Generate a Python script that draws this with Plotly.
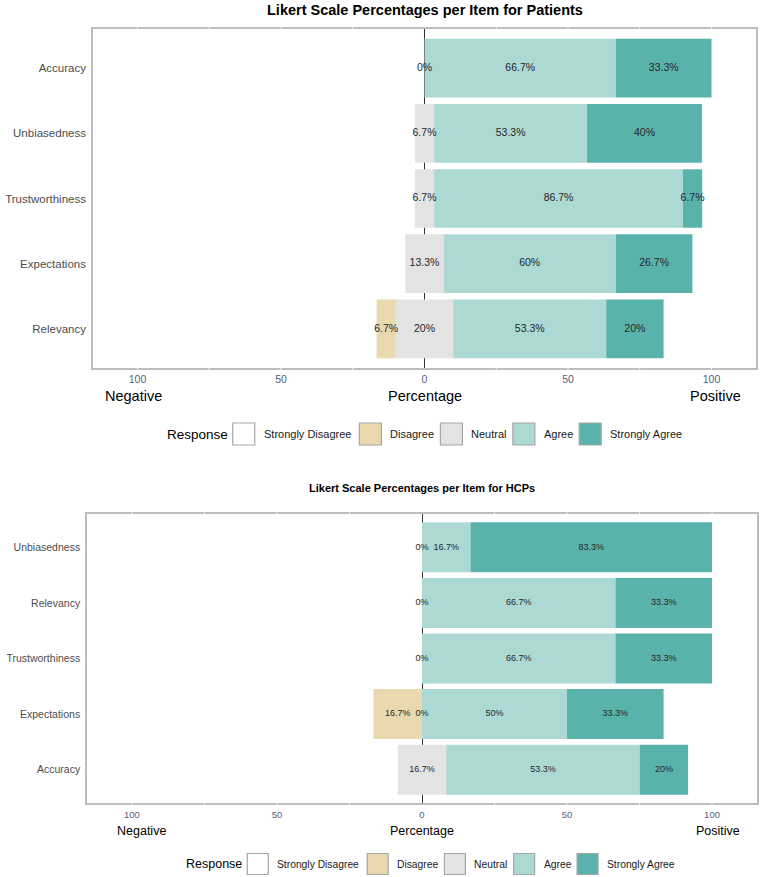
import plotly.graph_objects as go

# ---------------- data ----------------
levels = ["Strongly Disagree", "Disagree", "Neutral", "Agree", "Strongly Agree"]
level_colors = ["#FFFFFF", "#EAD8AE", "#E3E3E3", "#ADD9D5", "#5AB3AB"]

pat_items = ["Accuracy", "Unbiasedness", "Trustworthiness", "Expectations", "Relevancy"]
pat_sd = [0, 0, 0, 0, 0]
pat_d = [0, 0, 0, 0, 6.7]
pat_n = [0, 6.7, 6.7, 13.3, 20]
pat_a = [66.7, 53.3, 86.7, 60, 53.3]
pat_sa = [33.3, 40, 6.7, 26.7, 20]

hcp_items = ["Unbiasedness", "Relevancy", "Trustworthiness", "Expectations", "Accuracy"]
hcp_sd = [0, 0, 0, 0, 0]
hcp_d = [0, 0, 0, 16.7, 0]
hcp_n = [0, 0, 0, 0, 16.7]
hcp_a = [16.7, 66.7, 66.7, 50, 66.7]
hcp_sa = [83.3, 33.3, 33.3, 33.3, 16.7]
# printed labels (as shown in the figure)
hcp_a_label = [16.7, 66.7, 66.7, 50, 53.3]
hcp_sa_label = [83.3, 33.3, 33.3, 33.3, 20]

tick_vals = [-100, -50, 0, 50, 100]
tick_text = ["100", "50", "0", "50", "100"]

# ---------------- layout helpers ----------------
W, H = 760, 877
def px(x):
    return x / W
def py(y):
    return 1 - y / H

XR = [-115.5, 115.5]
FONT = "Liberation Sans, Arial, sans-serif"

fig = go.Figure()

def fmt(v):
    return f"{v:g}%"

def add_panel(ax, items, sd, d, n, a, sa, a_lab, sa_lab, lab_size):
    xa = "x" if ax == 1 else f"x{ax}"
    ya = "y" if ax == 1 else f"y{ax}"
    sd_b, d_b, n_b, a_b, sa_b = [], [], [], [], []
    for i in range(len(items)):
        nb = -n[i] / 2
        n_b.append(nb)
        d_b.append(nb - d[i])
        sd_b.append(nb - d[i] - sd[i])
        a_b.append(n[i] / 2)
        sa_b.append(n[i] / 2 + a[i])
    vals = [sd, d, n, a, sa]
    bases = [sd_b, d_b, n_b, a_b, sa_b]
    for lev, col, v, b in zip(levels, level_colors, vals, bases):
        fig.add_trace(go.Bar(
            y=items, x=v, base=b, orientation="h", width=0.9,
            marker=dict(color=col, line=dict(width=0)),
            name=lev, showlegend=False, xaxis=xa, yaxis=ya,
            hoverinfo="skip"))
    # labels
    lx, ly, lt = [], [], []
    labs = [sd, d, n, a_lab, sa_lab]
    for k, (v, b, lab) in enumerate(zip(vals, bases, labs)):
        for i in range(len(items)):
            if k == 2 or v[i] > 0:
                lx.append(b[i] + v[i] / 2)
                ly.append(items[i])
                lt.append(fmt(lab[i]))
    fig.add_trace(go.Scatter(
        x=lx, y=ly, text=lt, mode="text", textposition="middle center",
        textfont=dict(size=lab_size, color="#262626", family=FONT),
        showlegend=False, xaxis=xa, yaxis=ya, cliponaxis=False,
        hoverinfo="skip"))

add_panel(1, pat_items, pat_sd, pat_d, pat_n, pat_a, pat_sa, pat_a, pat_sa, 10.5)
add_panel(2, hcp_items, hcp_sd, hcp_d, hcp_n, hcp_a, hcp_sa, hcp_a_label, hcp_sa_label, 9)

# panel pixel geometry: (left, right, top, bottom)
P1 = (93, 756, 29, 368)
P2 = (87, 757, 514, 803)

def xaxis_cfg(P, size, ticklen):
    return dict(
        domain=[px(P[0]), px(P[1])], range=XR, tickvals=tick_vals, ticktext=tick_text,
        showgrid=False, zeroline=True, zerolinecolor="#333333", zerolinewidth=1,
        showline=True, mirror=True, linecolor="#BDBDBD", linewidth=1.5,
        ticks="outside", ticklen=ticklen, tickcolor="rgba(0,0,0,0)",
        tickfont=dict(size=size, color="#56607A", family=FONT), fixedrange=True)

def yaxis_cfg(P, items, size, anchor):
    return dict(
        domain=[py(P[3]), py(P[2])], type="category", categoryorder="array",
        categoryarray=items, range=[len(items) - 0.4, -0.6],
        showgrid=False, zeroline=False,
        showline=True, mirror=True, linecolor="#BDBDBD", linewidth=1.5,
        ticks="outside", ticklen=3, tickcolor="rgba(0,0,0,0)",
        tickfont=dict(size=size, color="#4D4D4D", family=FONT), anchor=anchor, fixedrange=True)

fig.update_layout(
    width=W, height=H, margin=dict(l=0, r=0, t=0, b=0),
    paper_bgcolor="white", plot_bgcolor="white", barmode="overlay",
    font=dict(family=FONT),
    xaxis=dict(xaxis_cfg(P1, 10.5, 1), anchor="y"),
    yaxis=yaxis_cfg(P1, pat_items, 11.5, "x"),
    xaxis2=dict(xaxis_cfg(P2, 9.5, 2), anchor="y2"),
    yaxis2=yaxis_cfg(P2, hcp_items, 10.5, "x2"),
)

annotations = []
shapes = []

def text_at(x, y, s, size, bold=False, xanchor="center", color="black"):
    annotations.append(dict(
        x=px(x), y=py(y), xref="paper", yref="paper", text=f"<b>{s}</b>" if bold else s,
        showarrow=False, xanchor=xanchor, yanchor="middle",
        font=dict(size=size, color=color, family=FONT)))

# titles
text_at(424.5, 10, "Likert Scale Percentages per Item for Patients", 14.5, bold=True)
text_at(422, 488, "Likert Scale Percentages per Item for HCPs", 11, bold=True)

# axis titles
text_at(133, 396, "Negative", 14.5)
text_at(425, 396, "Percentage", 14.5)
text_at(715, 396, "Positive", 14.5)
text_at(141, 831, "Negative", 12.5)
text_at(422, 831, "Percentage", 12.5)
text_at(718, 831, "Positive", 12.5)

# approximate Arial advance widths (em) for legend layout
EM = {"Response": 4.502, "Strongly Disagree": 8.147, "Disagree": 4.001,
      "Neutral": 3.223, "Agree": 2.668, "Strongly Agree": 6.614}

def legend(x0, yc, key_w, resp_size, lab_size, gap_key=7, gap_lab=8):
    text_at(x0, yc, "Response", resp_size, xanchor="left")
    x = x0 + EM["Response"] * resp_size + gap_key
    for lev, col in zip(levels, level_colors):
        shapes.append(dict(type="rect", xref="paper", yref="paper",
                           x0=px(x), x1=px(x + key_w), y0=py(yc + key_w / 2), y1=py(yc - key_w / 2),
                           fillcolor=col, line=dict(color="#A6A6A6", width=1.2), layer="above"))
        x += key_w + gap_key
        text_at(x, yc, lev, lab_size, xanchor="left", color="#1A1A1A")
        x += EM[lev] * lab_size + gap_lab

legend(165, 434, 22, 13.5, 11)
legend(184, 864, 21, 12.5, 10.3)

# white grid lines breaking the panel border (ggplot style)
for P in (P1, P2):
    for v in [-100, -75, -50, -25, 25, 50, 75, 100]:
        xp = P[0] + (v - XR[0]) / (XR[1] - XR[0]) * (P[1] - P[0])
        for yb in (P[2], P[3]):
            shapes.append(dict(type="line", xref="paper", yref="paper",
                               x0=px(xp), x1=px(xp), y0=py(yb - 1.5), y1=py(yb + 1.5),
                               line=dict(color="white", width=1), layer="above"))

fig.update_layout(annotations=annotations, shapes=shapes)

fig.write_html("out.html")
